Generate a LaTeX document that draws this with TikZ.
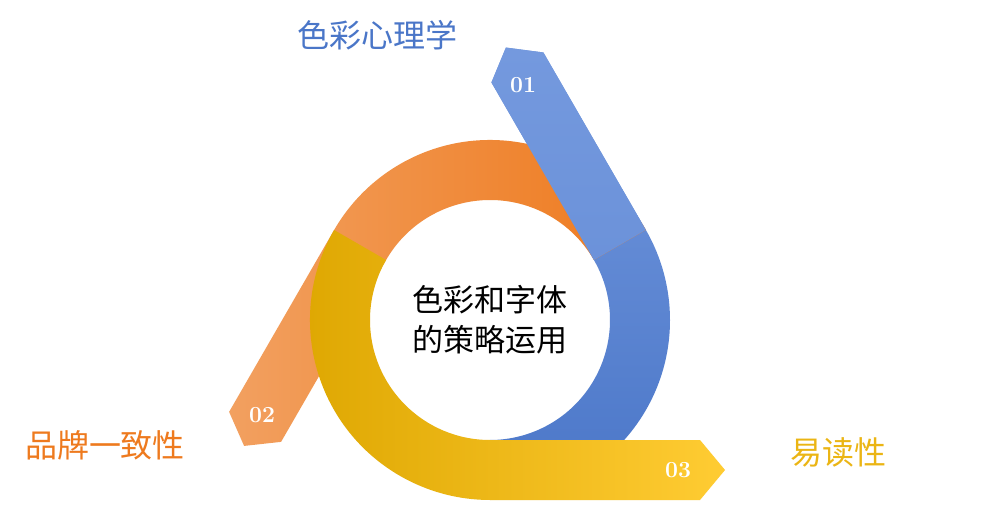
\documentclass[tikz,border=0pt]{standalone}
\usepackage{fontspec}
\newfontfamily\cjk{Noto Sans CJK SC}
\usetikzlibrary{calc}
\definecolor{bA}{HTML}{7499DE}\definecolor{bB}{HTML}{4A76C8}
\definecolor{oA}{HTML}{EE7A1E}\definecolor{oB}{HTML}{F2A060}
\definecolor{yA}{HTML}{DDA600}\definecolor{yB}{HTML}{FFCC33}
\tikzset{num/.style={text=white,font=\bfseries\fontsize{23}{23}\selectfont},
lab/.style={font=\cjk\fontsize{32}{34}\selectfont}}
\begin{document}
\begin{tikzpicture}[x=1pt,y=1pt]
\useasboundingbox (0,0) rectangle (991,523);
\fill[white] (0,0) rectangle (991,523);
\coordinate (C) at (490,203);
% blue
\shade[top color=bA,bottom color=bB] ($(C)+(-90:180)$) arc[start angle=-90,end angle=30,radius=180] -- ++(120:205) -- ($(C)+(30:150)+(120:228)$) -- ($(C)+(30:120)+(120:205)$) -- ($(C)+(30:120)$) arc[start angle=30,end angle=-90,radius=120] -- cycle;
% orange
\shade[left color=oB,right color=oA] ($(C)+(30:180)$) arc[start angle=30,end angle=150,radius=180] -- ++(240:210) -- ($(C)+(150:150)+(240:232)$) -- ($(C)+(150:120)+(240:210)$) -- ($(C)+(150:120)$) arc[start angle=150,end angle=30,radius=120] -- cycle;
% yellow
\shade[left color=yA,right color=yB] ($(C)+(150:180)$) arc[start angle=150,end angle=270,radius=180] -- ++(0:210) -- ($(C)+(270:150)+(0:235)$) -- ($(C)+(270:120)+(0:210)$) -- ($(C)+(270:120)$) arc[start angle=270,end angle=150,radius=120] -- cycle;
% blue straight part on top of orange start
\shade[top color=bA,bottom color=bA!80!bB] ($(C)+(30:180)$) -- ++(120:205) -- ($(C)+(30:150)+(120:228)$) -- ($(C)+(30:120)+(120:205)$) -- ($(C)+(30:120)$) -- cycle;
\node[num] (n1) at (523,438) {01};
\node[num] (n2) at (262,108) {02};
\node[num] (n3) at (678,53) {03};
\node[font=\cjk\fontsize{31}{40}\selectfont,align=center] (c) at (490,203) {色彩和字体\\的策略运用};
\node[lab,text=bB] (l1) at (377,488) {色彩心理学};
\node[lab,text=oA] (l2) at (105,78) {品牌一致性};
\node[lab,text=yA!60!yB] (l3) at (838,71) {易读性};
\end{tikzpicture}
\end{document}
